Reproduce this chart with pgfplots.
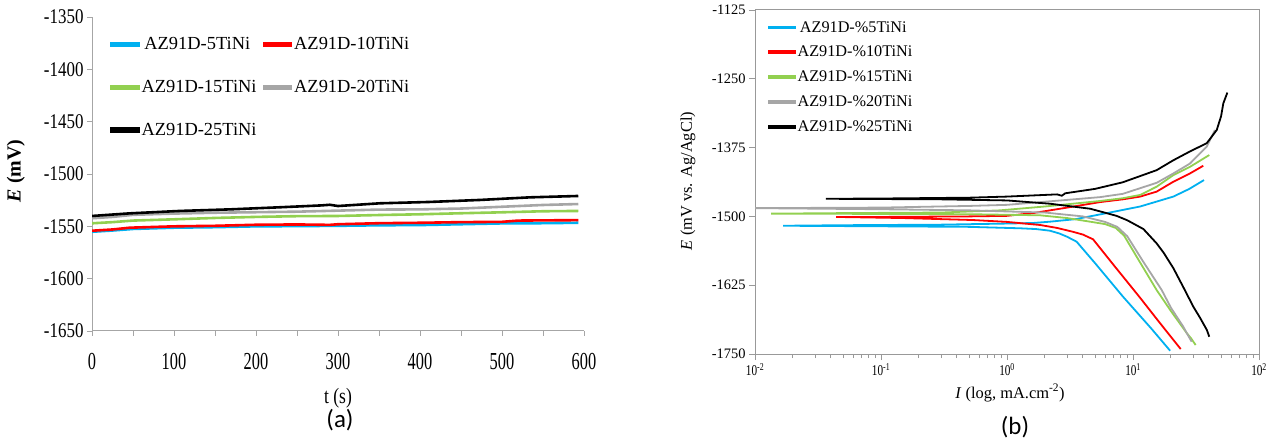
\documentclass[border=0pt]{standalone}
\usepackage{fontspec}
\setmainfont{Liberation Serif}
\newfontfamily\calib{Carlito}
\usepackage{graphicx}
\usepackage{pgfplots}
\pgfplotsset{compat=1.18}

\definecolor{cblue}{HTML}{00B0F0}
\definecolor{cred}{HTML}{FF0000}
\definecolor{cgreen}{HTML}{92D050}
\definecolor{cgray}{HTML}{A6A6A6}
\definecolor{axgray}{HTML}{A6A6A6}
\definecolor{axgrayb}{HTML}{999999}

\newcommand{\sy}[1]{\scalebox{0.81}[1]{#1}}
\newcommand{\sx}[1]{\scalebox{0.67}[1]{#1}}
\newcommand{\slog}[1]{\scalebox{0.75}[1]{#1}}

\begin{document}
\begin{tikzpicture}
\path[use as bounding box] (0bp,0bp) rectangle (1274bp,441bp);

% (a) open circuit potential
\begin{axis}[
  at={(92bp,110bp)}, anchor=south west, scale only axis,
  width=492bp, height=314bp,
  xmin=0, xmax=600, ymin=-1650, ymax=-1350,
  axis lines*=left, axis line style={axgray, line width=1bp},
  tick align=outside, major tick length=5bp, minor tick length=5bp,
  tick style={axgray, line width=0.9bp},
  xtick={0,100,...,600}, minor xtick={50,150,...,550},
  xticklabels={\sx{0},\sx{100},\sx{200},\sx{300},\sx{400},\sx{500},\sx{600}},
  ytick={-1650,-1600,-1550,-1500,-1450,-1400,-1350},
  yticklabels={\sy{-1650},\sy{-1600},\sy{-1550},\sy{-1500},\sy{-1450},\sy{-1400},\sy{-1350}},
  xticklabel style={font=\fontsize{24.5}{26}\selectfont, yshift=-14bp},
  yticklabel style={font=\fontsize{21}{24}\selectfont},
  xlabel={\scalebox{0.8}[1]{t (s)}},
  xlabel style={font=\fontsize{22}{24}\selectfont, at={(axis description cs:0.5,-0.215)}, anchor=center},
  ylabel={\textbf{\textit{E} (mV)}},
  ylabel style={font=\fontsize{20}{22}\selectfont, at={(axis description cs:-0.155,0.51)}, anchor=center},
  legend columns=2,
  legend image code/.code={\fill[#1] (0bp,-1.3bp) rectangle (27bp,1.3bp);},
  legend style={draw=none, fill=none, at={(0.03,0.943)}, anchor=north west,
    font=\fontsize{18.5}{21}\selectfont, row sep=28bp,
    nodes={inner xsep=2bp, inner ysep=0.5bp},
    /tikz/every even column/.append style={column sep=4bp}},
]
\addplot[cblue, line width=2.6bp] coordinates {(0,-1555.2) (25,-1554) (50,-1552.5) (100,-1551.3) (150,-1550.8) (200,-1550) (250,-1549.8) (300,-1549.5) (350,-1549) (400,-1548.8) (450,-1548) (500,-1547.2) (550,-1547) (593,-1546.6)};
\addlegendentry{\hspace*{-3.5bp}AZ91D-5TiNi}
\addplot[cred, line width=2.6bp] coordinates {(0,-1554.2) (25,-1553) (46,-1551.3) (100,-1550) (150,-1549.5) (200,-1548.5) (250,-1548.2) (290,-1548.6) (300,-1548) (350,-1547) (400,-1546.6) (450,-1546) (500,-1545.7) (520,-1544.5) (550,-1544.3) (593,-1544.1)};
\addlegendentry{AZ91D-10TiNi}
\addplot[cgreen, line width=2.6bp] coordinates {(0,-1547.1) (25,-1546) (50,-1544.5) (100,-1543.3) (150,-1542) (200,-1541) (250,-1540.3) (300,-1540.1) (350,-1539.2) (400,-1538.5) (450,-1537.5) (500,-1536.6) (550,-1535.6) (593,-1535.3)};
\addlegendentry{AZ91D-15TiNi}
\addplot[cgray, line width=2.6bp] coordinates {(0,-1542.3) (25,-1541) (50,-1539) (100,-1537.8) (150,-1537) (200,-1536.5) (250,-1536) (300,-1535) (350,-1534) (400,-1533.8) (450,-1533) (500,-1531.3) (550,-1529.6) (593,-1528.7)};
\addlegendentry{AZ91D-20TiNi}
\addplot[black, line width=2.6bp] coordinates {(0,-1540.1) (46,-1537.6) (107,-1535.3) (168,-1533.8) (229,-1531.8) (280,-1530) (290,-1529.4) (300,-1530.6) (351,-1528) (412,-1526.7) (473,-1524.8) (534,-1522.3) (593,-1521)};
\addlegendentry{AZ91D-25TiNi}
\end{axis}

% (b) potentiodynamic polarization
\begin{axis}[
  at={(755bp,87bp)}, anchor=south west, scale only axis,
  width=504bp, height=344bp,
  xmode=log, xmin=0.01, xmax=100, ymin=-1750, ymax=-1125,
  axis line style={axgrayb, line width=1bp},
  tick align=outside, major tick length=6bp, minor tick length=4bp,
  tick style={axgrayb, line width=0.9bp},
  xtick pos=bottom, ytick pos=left,
  xtick={0.01,0.1,1,10,100},
  xticklabels={\slog{10\textsuperscript{-2}},\slog{10\textsuperscript{-1}},\slog{10\textsuperscript{0}},\slog{10\textsuperscript{1}},\slog{10\textsuperscript{2}}},
  ytick={-1750,-1625,-1500,-1375,-1250,-1125},
  yticklabels={-1750,-1625,-1500,-1375,-1250,-1125},
  xticklabel style={font=\fontsize{15}{17}\selectfont},
  yticklabel style={font=\fontsize{14.5}{17}\selectfont},
  xlabel={\textit{I} (log, mA.cm\textsuperscript{-2})},
  xlabel style={font=\fontsize{16.5}{19}\selectfont, at={(axis description cs:0.506,-0.113)}, anchor=center},
  ylabel={\textit{E} (mV vs. Ag/AgCl)},
  ylabel style={font=\fontsize{16.5}{19}\selectfont, at={(axis description cs:-0.133,0.503)}, anchor=center},
  legend image code/.code={\fill[#1] (0bp,-0.9bp) rectangle (26bp,0.9bp);},
  legend style={draw=none, fill=none, at={(0.02,0.976)}, anchor=north west,
    font=\fontsize{16.3}{19}\selectfont, row sep=11bp, nodes={inner xsep=1.5bp, inner ysep=0.8bp}},
]
\addplot[cblue, line width=1.8bp] coordinates {(19.7,-1744) (14,-1704) (8.34,-1646) (5,-1585) (3.57,-1546) (3,-1537) (2.6,-1531) (2.19,-1526) (1.7,-1523) (1.27,-1521.6) (0.5,-1519) (0.1,-1518) (0.0167,-1517) (0.05,-1516) (0.3,-1515) (1,-1513) (1.6,-1512) (2.19,-1509.6) (3.5,-1505) (6.2,-1494) (11.4,-1482) (20.9,-1464) (28,-1450) (36.6,-1434)};
\addlegendentry{\hspace*{-3.5bp}AZ91D-\%5TiNi}
\addplot[cred, line width=1.8bp] coordinates {(23.9,-1741) (16,-1691) (11.4,-1648) (7,-1588) (4.82,-1541.6) (4,-1533) (3.34,-1528) (2.5,-1521) (1.83,-1515.6) (1,-1510) (0.537,-1506.6) (0.15,-1503) (0.044,-1501) (0.1,-1501) (0.5,-1500) (1,-1499) (1.61,-1494) (3,-1484) (5.47,-1474) (8.3,-1469) (11.4,-1464) (15.4,-1455) (20.9,-1437) (28.3,-1422) (36.1,-1408)};
\addlegendentry{AZ91D-\%10TiNi}
\addplot[cgreen, line width=1.8bp] coordinates {(31.4,-1733.7) (29,-1722) (26.7,-1712) (20,-1672) (15.4,-1633.8) (11,-1578) (8.5,-1535) (7.3,-1521) (6,-1514) (4.56,-1509.6) (3,-1503) (1.83,-1498) (0.5,-1496) (0.1,-1495.5) (0.0134,-1495) (0.05,-1494) (0.3,-1493) (0.88,-1489) (2,-1482) (5.47,-1472) (8.3,-1467) (11.4,-1461) (15.4,-1446) (20.9,-1425) (28.3,-1410) (40.3,-1388.5)};
\addlegendentry{AZ91D-\%15TiNi}
\addplot[cgray, line width=1.8bp] coordinates {(29.2,-1727.6) (27,-1714) (25,-1700) (20,-1666) (16.9,-1633.8) (12,-1581.6) (9,-1536) (7.5,-1519) (6,-1510) (4,-1500) (2,-1493) (0.5,-1489) (0.1,-1487) (0.01,-1485) (0.1,-1484) (0.5,-1481) (1,-1479) (3,-1470) (5.47,-1465) (8.3,-1459) (15.4,-1439) (20.9,-1422) (28.3,-1404) (38.5,-1373) (44.7,-1343)};
\addlegendentry{AZ91D-\%20TiNi}
\addplot[black, line width=1.8bp] coordinates {(40.3,-1718.6) (38.5,-1706) (34,-1684) (30.1,-1664) (25,-1628) (20.9,-1594) (17.5,-1566) (15.4,-1549) (12.1,-1523) (9,-1507) (7.4,-1499) (5.5,-1491) (4.56,-1486) (2.2,-1477) (1,-1471) (0.3,-1469) (0.0365,-1468) (0.1,-1467.5) (0.5,-1466) (1,-1464) (2.5,-1460) (2.72,-1462.5) (2.9,-1458) (5,-1450) (8.3,-1438) (15.4,-1416) (20.9,-1398) (28.3,-1382) (38.5,-1367) (46.2,-1343) (50,-1318) (52.1,-1294.5) (56.1,-1275)};
\addlegendentry{AZ91D-\%25TiNi}
\end{axis}

\node[font=\calib\fontsize{25}{28}\selectfont] at (340bp,21bp) {(a)};
\node[font=\calib\fontsize{25}{28}\selectfont] at (1015bp,14bp) {(b)};
\end{tikzpicture}
\end{document}
